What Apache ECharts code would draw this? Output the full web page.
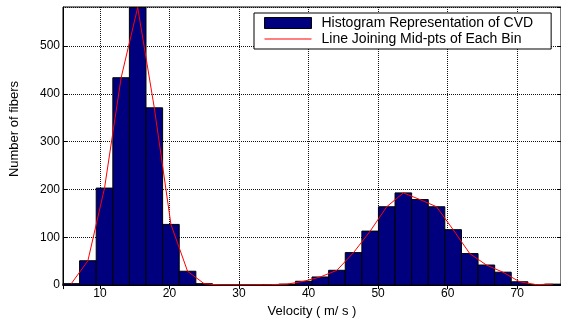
<!DOCTYPE html>
<html>
<head>
<meta charset="utf-8">
<script src="https://cdn.jsdelivr.net/npm/echarts@6/dist/echarts.min.js"></script>
<style>
html,body{margin:0;padding:0;background:#fff;}
#chart{width:561px;height:323px;}
</style>
</head>
<body>
<div id="chart"></div>
<script>
// Bin centers (m/s) and counts
const binCenters = [5.88, 8.27, 10.66, 13.05, 15.43, 17.82, 20.21, 22.60, 24.98, 27.37,
                    29.76, 32.14, 34.53, 36.92, 39.31, 41.69, 44.08, 46.47, 48.86, 51.24,
                    53.63, 56.02, 58.40, 60.79, 63.18, 65.57, 67.95, 70.34, 72.73, 75.12];
const binWidth = 2.387;
const counts = [3, 51, 203, 434, 581, 371, 127, 29, 3, 0,
                0, 0, 1, 2, 8, 17, 31, 68, 113, 164,
                193, 179, 164, 116, 66, 42, 27, 7, 1, 2];
const xTickLabels = ['10', '20', '30', '40', '50', '60', '70'];
const yTickLabels = ['0', '100', '200', '300', '400', '500'];
const histName = 'Histogram Representation of CVD';
const lineName = 'Line Joining Mid-pts of Each Bin';

const histData = binCenters.map((c, i) => [c, counts[i]]);

const font = 'Liberation Sans, Arial, sans-serif';
const chart = echarts.init(document.getElementById('chart'), null, {renderer: 'canvas'});
const gridLine = {show: true, lineStyle: {color: '#111', type: [1, 1], width: 1}};

chart.setOption({
  animation: false,
  backgroundColor: '#fff',
  grid: {left: 62, right: 0, top: 7, bottom: 33, show: true, borderColor: '#000', borderWidth: 1, backgroundColor: '#fff'},
  legend: {
    orient: 'vertical',
    left: 254,
    top: 13,
    padding: [3, 18, 3, 10],
    itemWidth: 47,
    itemHeight: 11,
    itemGap: 2,
    borderColor: '#000',
    borderWidth: 1,
    backgroundColor: '#fff',
    textStyle: {fontFamily: font, fontSize: 14, lineHeight: 14, color: '#000', padding: [0, 0, 0, 5]},
    data: [
      {name: histName, icon: 'rect', itemStyle: {color: '#00007f', borderColor: '#000', borderWidth: 1}},
      {name: lineName, icon: 'path://M0,0 H100 V2 H0 Z', itemStyle: {color: '#ff0000', borderWidth: 0}}
    ]
  },
  xAxis: [{
    type: 'value',
    min: 4.69,
    max: 76.3,
    splitNumber: 7,
    axisLine: {show: true, lineStyle: {color: '#000'}},
    axisTick: {show: true, inside: true, length: 4, lineStyle: {color: '#000'}},
    axisLabel: {
      showMinLabel: false, showMaxLabel: false, margin: 3,
      fontFamily: font, fontSize: 12, color: '#000',
      formatter: v => xTickLabels.includes(String(v)) ? String(v) : ''
    },
    splitLine: gridLine,
    name: 'Velocity ( m/ s )',
    nameLocation: 'middle',
    nameGap: 15,
    nameTextStyle: {fontFamily: font, fontSize: 13, color: '#000'}
  }, {
    type: 'value',
    position: 'top',
    min: 4.69,
    max: 76.3,
    splitNumber: 7,
    axisLine: {show: true, lineStyle: {color: '#000'}},
    axisTick: {show: true, inside: true, length: 4, lineStyle: {color: '#000'}},
    axisLabel: {show: false},
    splitLine: {show: false}
  }],
  yAxis: [{
    type: 'value',
    min: 0,
    max: 582,
    interval: 100,
    axisLine: {show: true, lineStyle: {color: '#000'}},
    axisTick: {show: true, inside: true, length: 4, lineStyle: {color: '#000'}},
    axisLabel: {
      showMaxLabel: false, margin: 3,
      fontFamily: font, fontSize: 12, color: '#000',
      formatter: v => yTickLabels.includes(String(v)) ? String(v) : ''
    },
    splitLine: gridLine,
    name: 'Number of fibers',
    nameLocation: 'middle',
    nameGap: 42,
    nameTextStyle: {fontFamily: font, fontSize: 13, color: '#000', padding: [0, 0, 0, 34]}
  }, {
    type: 'value',
    position: 'right',
    min: 0,
    max: 582,
    interval: 100,
    axisLine: {show: true, lineStyle: {color: '#000'}},
    axisTick: {show: true, inside: true, length: 4, lineStyle: {color: '#000'}},
    axisLabel: {show: false},
    splitLine: {show: false}
  }],
  series: [{
    name: histName,
    type: 'custom',
    xAxisIndex: 0,
    yAxisIndex: 0,
    itemStyle: {color: '#00007f'},
    renderItem: function (params, api) {
      const c = api.value(0), v = api.value(1);
      const p0 = api.coord([c - binWidth / 2, v]);
      const p1 = api.coord([c + binWidth / 2, 0]);
      return {
        type: 'rect',
        shape: {x: p0[0], y: p0[1], width: p1[0] - p0[0], height: p1[1] - p0[1]},
        style: {fill: '#00007f', stroke: '#000', lineWidth: 1}
      };
    },
    encode: {x: 0, y: 1},
    data: histData,
    z: 2
  }, {
    name: lineName,
    type: 'line',
    xAxisIndex: 0,
    yAxisIndex: 0,
    data: histData,
    symbol: 'none',
    lineStyle: {color: '#ff0000', width: 1},
    itemStyle: {color: '#ff0000'},
    z: 3
  }]
});
</script>
</body>
</html>
